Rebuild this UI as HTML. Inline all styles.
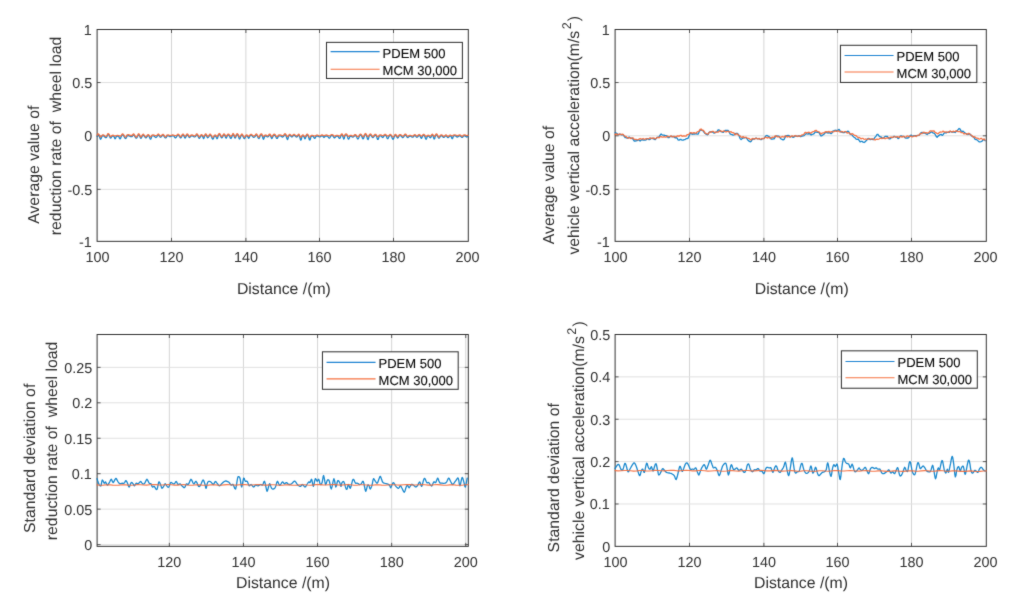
<!DOCTYPE html>
<html lang="en"><head><meta charset="utf-8"><title>PDEM vs MCM comparison</title>
<style>
html,body{margin:0;padding:0;background:#fff;}
body{width:1012px;height:601px;overflow:hidden;}
svg{display:block;font-family:'Liberation Sans', Arial, sans-serif;fill:#303030;text-rendering:geometricPrecision;}
</style></head><body>
<svg width="1012" height="601" viewBox="0 0 1012 601">
<defs><filter id="soft" x="0" y="0" width="100%" height="100%" filterUnits="userSpaceOnUse" color-interpolation-filters="sRGB"><feConvolveMatrix order="3" kernelMatrix="0.02 0.07 0.02 0.07 0.64 0.07 0.02 0.07 0.02" edgeMode="duplicate" preserveAlpha="true"/></filter></defs>
<g filter="url(#soft)">
<rect width="1012" height="601" fill="#ffffff"/>
<line x1="171.50" y1="29.50" x2="171.50" y2="241.35" stroke="#d5d5d5" stroke-width="1"/>
<line x1="245.90" y1="29.50" x2="245.90" y2="241.35" stroke="#d5d5d5" stroke-width="1"/>
<line x1="319.50" y1="29.50" x2="319.50" y2="241.35" stroke="#d5d5d5" stroke-width="1"/>
<line x1="393.50" y1="29.50" x2="393.50" y2="241.35" stroke="#d5d5d5" stroke-width="1"/>
<line x1="97.10" y1="189.35" x2="468.30" y2="189.35" stroke="#e0e0e0" stroke-width="1"/>
<line x1="97.10" y1="135.80" x2="468.30" y2="135.80" stroke="#e0e0e0" stroke-width="1"/>
<line x1="97.10" y1="82.55" x2="468.30" y2="82.55" stroke="#e0e0e0" stroke-width="1"/>
<line x1="171.50" y1="241.35" x2="171.50" y2="237.85" stroke="#4a4a4a" stroke-width="0.9"/>
<line x1="171.50" y1="29.50" x2="171.50" y2="33.00" stroke="#4a4a4a" stroke-width="0.9"/>
<line x1="245.90" y1="241.35" x2="245.90" y2="237.85" stroke="#4a4a4a" stroke-width="0.9"/>
<line x1="245.90" y1="29.50" x2="245.90" y2="33.00" stroke="#4a4a4a" stroke-width="0.9"/>
<line x1="319.50" y1="241.35" x2="319.50" y2="237.85" stroke="#4a4a4a" stroke-width="0.9"/>
<line x1="319.50" y1="29.50" x2="319.50" y2="33.00" stroke="#4a4a4a" stroke-width="0.9"/>
<line x1="393.50" y1="241.35" x2="393.50" y2="237.85" stroke="#4a4a4a" stroke-width="0.9"/>
<line x1="393.50" y1="29.50" x2="393.50" y2="33.00" stroke="#4a4a4a" stroke-width="0.9"/>
<line x1="97.10" y1="189.35" x2="100.60" y2="189.35" stroke="#4a4a4a" stroke-width="0.9"/>
<line x1="468.30" y1="189.35" x2="464.80" y2="189.35" stroke="#4a4a4a" stroke-width="0.9"/>
<line x1="97.10" y1="135.80" x2="100.60" y2="135.80" stroke="#4a4a4a" stroke-width="0.9"/>
<line x1="468.30" y1="135.80" x2="464.80" y2="135.80" stroke="#4a4a4a" stroke-width="0.9"/>
<line x1="97.10" y1="82.55" x2="100.60" y2="82.55" stroke="#4a4a4a" stroke-width="0.9"/>
<line x1="468.30" y1="82.55" x2="464.80" y2="82.55" stroke="#4a4a4a" stroke-width="0.9"/>
<rect x="97.10" y="29.50" width="371.20" height="211.85" fill="none" stroke="#323232" stroke-width="1.0"/>
<polyline points="97.1,136.3 97.6,135.2 98.1,134.7 98.7,134.9 99.2,135.7 99.7,137.3 100.2,138.9 100.7,139.2 101.3,138.2 101.8,136.5 102.3,136.0 102.8,135.7 103.4,135.7 103.9,136.0 104.4,136.5 105.0,137.2 105.5,137.7 106.1,137.7 106.6,137.2 107.1,136.1 107.6,135.0 108.2,134.5 108.7,134.7 109.2,135.5 109.7,136.8 110.3,137.9 110.8,138.1 111.3,137.4 111.8,136.5 112.4,136.2 112.9,136.1 113.5,136.2 114.0,136.5 114.6,138.1 115.1,138.8 115.7,138.1 116.2,136.6 116.8,136.4 117.3,136.2 117.8,136.2 118.3,136.4 118.8,136.6 119.3,137.9 119.8,138.8 120.3,138.8 120.8,137.9 121.3,136.4 121.8,135.5 122.3,134.9 122.8,134.8 123.3,135.2 123.8,135.9 124.3,137.0 124.9,138.0 125.4,138.5 125.9,138.3 126.4,137.5 126.9,136.0 127.4,135.8 127.9,135.6 128.5,135.6 129.0,135.8 129.5,136.0 130.1,136.4 130.6,136.6 131.1,136.6 131.6,136.4 132.2,136.5 132.7,135.5 133.3,134.9 133.8,134.9 134.3,135.5 134.9,136.5 135.4,137.5 136.0,138.2 136.5,138.2 137.0,137.5 137.6,136.3 138.1,135.2 138.7,134.7 139.2,135.2 139.8,136.3 140.4,137.8 140.9,138.4 141.5,137.8 142.0,136.4 142.6,135.6 143.1,135.1 143.7,135.3 144.2,136.0 144.8,136.9 145.4,137.7 145.9,137.9 146.5,137.4 147.0,136.6 147.5,135.9 148.1,135.5 148.6,135.6 149.1,136.2 149.6,137.5 150.1,138.8 150.7,139.1 151.2,138.2 151.7,136.2 152.2,136.0 152.7,135.8 153.2,135.8 153.7,135.9 154.2,136.1 154.7,136.6 155.3,137.2 155.8,137.5 156.3,137.4 156.8,136.9 157.3,136.0 157.8,135.3 158.4,134.9 158.9,135.3 159.4,136.0 160.0,137.0 160.5,137.3 161.0,137.0 161.6,136.5 162.1,135.7 162.6,135.3 163.1,135.3 163.7,135.7 164.2,136.5 164.7,137.4 165.2,137.9 165.7,137.9 166.3,137.4 166.8,136.1 167.3,135.9 167.8,135.7 168.3,135.8 168.8,136.0 169.3,136.3 169.8,136.6 170.3,136.7 170.8,136.5 171.3,136.2 171.9,136.0 172.4,135.8 173.0,135.8 173.5,136.0 174.1,136.2 174.6,137.3 175.2,137.9 175.7,137.9 176.3,137.3 176.8,136.3 177.3,135.6 177.8,135.1 178.3,135.1 178.9,135.6 179.4,136.3 179.9,137.2 180.4,137.8 180.9,137.8 181.4,137.2 181.9,136.1 182.4,135.3 183.0,135.0 183.5,135.3 184.0,136.1 184.6,137.5 185.1,138.1 185.6,137.5 186.2,136.1 186.7,135.2 187.3,134.8 187.8,135.2 188.4,136.1 188.9,137.1 189.5,137.6 190.1,137.1 190.6,136.3 191.1,136.0 191.6,135.9 192.2,135.9 192.7,136.0 193.2,136.3 193.7,136.6 194.2,136.8 194.7,136.8 195.2,136.6 195.7,136.3 196.2,135.2 196.8,134.7 197.3,134.9 197.8,135.7 198.4,137.0 198.9,138.1 199.4,138.3 199.9,137.6 200.5,136.4 201.0,135.8 201.5,135.6 202.0,135.8 202.6,136.4 203.1,137.9 203.6,138.6 204.1,137.9 204.7,136.0 205.2,135.1 205.7,134.7 206.2,135.1 206.7,136.0 207.2,137.3 207.7,137.8 208.3,137.3 208.8,136.6 209.3,135.7 209.8,135.1 210.4,135.1 210.9,135.7 211.5,136.6 212.0,138.1 212.5,139.0 213.1,139.0 213.6,138.1 214.1,136.6 214.7,136.0 215.3,135.8 215.8,136.3 216.4,137.6 217.0,138.7 217.5,138.3 218.1,136.0 218.6,135.0 219.2,134.4 219.7,134.6 220.3,135.5 220.8,136.6 221.4,137.6 221.9,137.8 222.5,137.2 223.0,136.0 223.5,135.1 224.0,134.7 224.6,135.1 225.1,136.0 225.6,137.6 226.1,138.2 226.6,137.6 227.1,136.0 227.7,135.3 228.2,135.0 228.8,135.1 229.3,135.7 229.9,136.9 230.4,138.2 231.0,138.5 231.5,137.7 232.1,136.0 232.6,134.9 233.1,134.4 233.6,134.9 234.1,136.0 234.6,137.5 235.1,138.1 235.6,137.5 236.1,136.1 236.6,135.0 237.1,134.5 237.6,134.7 238.2,135.5 238.7,137.1 239.2,138.7 239.7,139.0 240.2,138.0 240.7,136.5 241.2,135.5 241.8,134.9 242.3,135.1 242.8,136.0 243.4,137.2 243.9,138.3 244.5,138.6 245.0,137.9 245.6,136.5 246.1,136.0 246.6,135.7 247.1,136.0 247.7,136.5 248.2,137.7 248.7,138.2 249.2,137.7 249.8,136.1 250.3,135.6 250.8,135.3 251.4,135.3 251.9,135.6 252.4,136.1 253.0,136.9 253.5,137.3 254.0,137.3 254.5,136.9 255.1,136.4 255.6,135.4 256.2,134.8 256.7,135.0 257.3,135.9 257.8,137.1 258.4,138.2 258.9,138.5 259.5,137.8 260.0,136.0 260.5,135.2 261.0,134.8 261.6,134.9 262.1,135.6 262.6,137.1 263.1,138.8 263.6,139.2 264.1,138.1 264.6,136.3 265.2,136.0 265.7,135.9 266.3,136.1 266.9,136.6 267.4,136.9 268.0,136.8 268.6,136.3 269.1,135.3 269.7,135.0 270.2,135.3 270.7,136.3 271.3,137.8 271.8,138.5 272.4,137.8 272.9,136.3 273.5,135.5 274.0,135.1 274.5,135.1 275.1,135.5 275.6,136.3 276.2,137.6 276.7,138.4 277.3,138.4 277.8,137.6 278.3,136.1 278.9,135.9 279.4,135.8 280.0,135.8 280.5,135.9 281.1,136.1 281.6,136.7 282.2,137.0 282.7,137.0 283.3,136.7 283.8,136.0 284.4,135.0 284.9,134.5 285.4,134.7 286.0,135.5 286.5,137.2 287.1,139.1 287.6,139.5 288.1,138.3 288.7,136.0 289.2,135.5 289.7,135.2 290.3,135.5 290.8,136.0 291.3,136.7 291.9,137.0 292.4,136.7 292.9,136.0 293.5,135.5 294.0,135.2 294.5,135.3 295.0,135.8 295.5,136.4 296.0,136.9 296.5,137.0 297.0,136.7 297.5,136.6 298.1,135.5 298.6,135.0 299.2,135.5 299.7,136.6 300.3,139.1 300.8,140.1 301.4,139.1 301.9,136.6 302.4,136.0 302.9,135.8 303.4,136.0 303.9,136.6 304.5,138.1 305.0,138.8 305.5,138.1 306.0,136.6 306.5,135.6 307.0,135.0 307.5,135.0 308.0,135.6 308.5,136.6 309.0,138.6 309.5,139.9 310.0,139.9 310.5,138.6 311.0,136.5 311.5,136.3 312.1,136.2 312.6,136.2 313.2,136.4 313.7,137.2 314.3,138.1 314.8,138.3 315.4,137.7 315.9,136.4 316.4,136.1 316.9,136.0 317.4,136.0 317.9,136.1 318.4,136.4 318.9,136.7 319.5,136.9 320.0,136.9 320.5,136.7 321.0,136.2 321.5,135.9 322.0,135.8 322.5,135.9 323.0,136.2 323.5,137.1 324.0,137.5 324.5,137.1 325.0,136.3 325.5,136.1 326.0,136.0 326.5,135.9 327.0,136.0 327.6,136.2 328.1,136.8 328.6,137.7 329.1,138.1 329.6,138.0 330.1,137.3 330.6,136.2 331.1,135.7 331.6,135.5 332.2,135.5 332.7,135.7 333.2,136.2 333.7,137.2 334.2,137.8 334.7,137.8 335.3,137.2 335.8,136.6 336.3,136.3 336.8,136.2 337.3,136.2 337.8,136.3 338.3,136.6 338.8,137.6 339.3,138.3 339.8,138.3 340.3,137.6 340.8,136.0 341.4,135.0 342.0,134.7 342.5,135.4 343.1,137.4 343.7,139.1 344.2,138.5 344.8,136.0 345.3,135.2 345.8,134.8 346.3,134.8 346.8,135.2 347.3,136.0 347.8,137.9 348.3,139.1 348.8,139.1 349.3,137.9 349.8,136.6 350.3,136.3 350.8,136.2 351.3,136.3 351.8,136.6 352.3,137.0 352.8,137.2 353.3,137.0 353.8,136.6 354.4,135.9 354.9,135.5 355.4,135.5 356.0,135.9 356.5,136.6 357.1,138.0 357.6,138.9 358.1,138.9 358.7,138.0 359.2,136.3 359.7,135.5 360.2,135.0 360.8,135.0 361.3,135.5 361.8,136.3 362.3,137.9 362.8,138.8 363.3,138.8 363.8,137.9 364.3,136.0 364.8,135.0 365.4,134.4 365.9,134.6 366.4,135.5 367.0,137.2 367.5,139.0 368.1,139.5 368.6,138.3 369.1,136.1 369.7,135.3 370.2,134.9 370.8,135.0 371.3,135.7 371.9,136.7 372.4,137.4 373.0,137.6 373.5,137.1 374.0,136.4 374.6,135.6 375.1,135.2 375.6,135.2 376.1,135.6 376.6,136.4 377.1,138.3 377.6,139.4 378.1,139.4 378.6,138.3 379.1,136.2 379.7,135.9 380.2,135.8 380.7,135.8 381.2,136.0 381.8,136.6 382.3,137.3 382.8,137.5 383.3,137.0 383.9,136.1 384.4,135.6 384.9,135.3 385.4,135.3 385.9,135.6 386.4,136.1 386.9,137.7 387.4,138.7 387.9,138.7 388.4,137.7 388.9,136.5 389.5,135.8 390.0,135.3 390.5,135.3 391.1,135.8 391.6,136.5 392.2,138.1 392.7,139.1 393.3,139.1 393.8,138.1 394.4,136.4 394.9,135.6 395.5,135.3 396.0,135.6 396.6,136.4 397.1,137.5 397.7,138.0 398.3,137.5 398.8,136.2 399.3,135.8 399.9,135.5 400.4,135.5 400.9,135.8 401.4,136.2 402.0,137.0 402.5,137.5 403.0,137.5 403.6,137.0 404.1,136.1 404.6,135.4 405.2,135.0 405.7,135.1 406.3,135.7 406.8,136.6 407.3,137.5 407.9,137.7 408.4,137.1 409.0,136.6 409.5,136.3 410.0,136.2 410.5,136.2 411.1,136.4 411.6,136.8 412.1,137.1 412.7,137.2 413.2,137.0 413.7,136.3 414.3,135.7 414.8,135.5 415.4,135.7 415.9,136.3 416.4,137.0 417.0,137.3 417.5,137.0 418.1,136.2 418.6,135.7 419.2,135.4 419.7,135.7 420.3,136.2 420.8,137.8 421.4,138.4 421.9,137.8 422.5,136.3 423.0,135.6 423.5,135.2 424.0,135.3 424.6,135.9 425.1,137.3 425.6,138.9 426.2,139.2 426.7,138.2 427.2,136.5 427.7,136.2 428.2,136.1 428.7,136.2 429.2,136.5 429.8,137.4 430.3,137.8 430.8,137.4 431.3,136.2 431.8,135.4 432.4,135.1 433.0,135.7 433.5,137.5 434.1,139.1 434.7,138.6 435.2,136.4 435.7,135.4 436.2,134.9 436.7,134.9 437.2,135.4 437.7,136.4 438.2,137.4 438.7,138.1 439.2,138.1 439.7,137.4 440.2,136.5 440.7,135.9 441.3,135.7 441.8,135.8 442.3,136.2 442.8,136.8 443.3,137.3 443.8,137.4 444.3,137.1 444.8,136.6 445.4,136.0 445.9,135.8 446.5,136.0 447.0,136.6 447.5,137.3 448.1,137.6 448.6,137.3 449.2,136.4 449.7,136.1 450.2,136.0 450.7,136.1 451.2,136.4 451.7,138.0 452.2,138.7 452.8,138.0 453.3,136.1 453.8,135.9 454.3,135.7 454.9,135.7 455.4,135.9 455.9,136.1 456.4,136.6 457.0,137.0 457.5,137.0 458.0,136.6 458.5,136.5 459.1,135.9 459.6,135.7 460.1,135.8 460.6,136.2 461.2,136.8 461.7,137.3 462.2,137.4 462.7,137.1 463.3,136.1 463.8,135.9 464.3,135.7 464.9,135.8 465.4,136.0 465.9,136.4 466.5,136.9 467.0,137.0 467.5,136.7 468.1,136.3" fill="none" stroke="#087fca" stroke-width="1.3" stroke-opacity="0.92" stroke-linejoin="round" stroke-linecap="round"/>
<polyline points="97.1,135.4 97.6,134.3 98.1,133.8 98.7,134.0 99.2,134.8 99.7,135.9 100.2,136.8 100.7,136.9 101.3,136.4 101.8,135.6 102.3,135.1 102.8,134.8 103.4,134.8 103.9,135.1 104.4,135.6 105.0,136.1 105.5,136.3 106.1,136.3 106.6,136.1 107.1,135.2 107.6,134.1 108.2,133.6 108.7,133.8 109.2,134.6 109.7,135.7 110.3,136.5 110.8,136.7 111.3,136.2 111.8,135.6 112.4,135.3 112.9,135.2 113.5,135.3 114.0,135.6 114.6,135.9 115.1,136.0 115.7,135.9 116.2,135.7 116.8,135.5 117.3,135.3 117.8,135.3 118.3,135.5 118.8,135.7 119.3,135.9 119.8,136.1 120.3,136.1 120.8,135.9 121.3,135.5 121.8,134.6 122.3,134.0 122.8,133.9 123.3,134.3 123.8,135.0 124.3,135.9 124.9,136.7 125.4,137.1 125.9,136.9 126.4,136.3 126.9,135.1 127.4,134.9 127.9,134.7 128.5,134.7 129.0,134.9 129.5,135.1 130.1,135.4 130.6,135.5 131.1,135.5 131.6,135.4 132.2,135.6 132.7,134.6 133.3,134.0 133.8,134.0 134.3,134.6 134.9,135.6 135.4,136.5 136.0,137.1 136.5,137.1 137.0,136.5 137.6,135.4 138.1,134.3 138.7,133.8 139.2,134.3 139.8,135.4 140.4,136.5 140.9,137.0 141.5,136.5 142.0,135.5 142.6,134.7 143.1,134.2 143.7,134.4 144.2,135.1 144.8,135.9 145.4,136.6 145.9,136.8 146.5,136.3 147.0,135.7 147.5,135.0 148.1,134.6 148.6,134.7 149.1,135.3 149.6,136.1 150.1,136.7 150.7,136.8 151.2,136.4 151.7,135.3 152.2,135.1 152.7,134.9 153.2,134.9 153.7,135.0 154.2,135.2 154.7,135.4 155.3,135.6 155.8,135.7 156.3,135.7 156.8,135.5 157.3,135.1 157.8,134.4 158.4,134.0 158.9,134.4 159.4,135.1 160.0,135.9 160.5,136.2 161.0,135.9 161.6,135.6 162.1,134.8 162.6,134.4 163.1,134.4 163.7,134.8 164.2,135.6 164.7,136.4 165.2,136.8 165.7,136.8 166.3,136.4 166.8,135.2 167.3,135.0 167.8,134.8 168.3,134.9 168.8,135.1 169.3,135.4 169.8,135.6 170.3,135.6 170.8,135.5 171.3,135.3 171.9,135.1 172.4,134.9 173.0,134.9 173.5,135.1 174.1,135.3 174.6,135.6 175.2,135.7 175.7,135.7 176.3,135.6 176.8,135.4 177.3,134.7 177.8,134.2 178.3,134.2 178.9,134.7 179.4,135.4 179.9,136.2 180.4,136.7 180.9,136.7 181.4,136.2 181.9,135.2 182.4,134.4 183.0,134.1 183.5,134.4 184.0,135.2 184.6,135.9 185.1,136.3 185.6,135.9 186.2,135.2 186.7,134.3 187.3,133.9 187.8,134.3 188.4,135.2 188.9,136.1 189.5,136.5 190.1,136.1 190.6,135.4 191.1,135.1 191.6,135.0 192.2,135.0 192.7,135.1 193.2,135.4 193.7,135.6 194.2,135.8 194.7,135.8 195.2,135.6 195.7,135.4 196.2,134.3 196.8,133.8 197.3,134.0 197.8,134.8 198.4,135.9 198.9,136.8 199.4,136.9 199.9,136.4 200.5,135.5 201.0,134.9 201.5,134.7 202.0,134.9 202.6,135.5 203.1,136.1 203.6,136.3 204.1,136.1 204.7,135.1 205.2,134.2 205.7,133.8 206.2,134.2 206.7,135.1 207.2,136.0 207.7,136.4 208.3,136.0 208.8,135.7 209.3,134.8 209.8,134.2 210.4,134.2 210.9,134.8 211.5,135.7 212.0,136.6 212.5,137.2 213.1,137.2 213.6,136.6 214.1,135.7 214.7,135.1 215.3,134.9 215.8,135.4 216.4,136.0 217.0,136.5 217.5,136.3 218.1,135.1 218.6,134.1 219.2,133.5 219.7,133.7 220.3,134.6 220.8,135.7 221.4,136.5 221.9,136.7 222.5,136.2 223.0,135.1 223.5,134.2 224.0,133.8 224.6,134.2 225.1,135.1 225.6,136.0 226.1,136.4 226.6,136.0 227.1,135.1 227.7,134.4 228.2,134.1 228.8,134.2 229.3,134.8 229.9,135.5 230.4,136.1 231.0,136.2 231.5,135.9 232.1,135.1 232.6,134.0 233.1,133.5 233.6,134.0 234.1,135.1 234.6,136.2 235.1,136.7 235.6,136.2 236.1,135.2 236.6,134.1 237.1,133.6 237.6,133.8 238.2,134.6 238.7,135.7 239.2,136.6 239.7,136.8 240.2,136.2 240.7,135.6 241.2,134.6 241.8,134.0 242.3,134.2 242.8,135.1 243.4,136.2 243.9,137.0 244.5,137.2 245.0,136.6 245.6,135.6 246.1,135.1 246.6,134.8 247.1,135.1 247.7,135.6 248.2,136.2 248.7,136.4 249.2,136.2 249.8,135.2 250.3,134.7 250.8,134.4 251.4,134.4 251.9,134.7 252.4,135.2 253.0,135.7 253.5,136.0 254.0,136.0 254.5,135.7 255.1,135.5 255.6,134.5 256.2,133.9 256.7,134.1 257.3,135.0 257.8,136.1 258.4,136.9 258.9,137.1 259.5,136.5 260.0,135.1 260.5,134.3 261.0,133.9 261.6,134.0 262.1,134.7 262.6,135.6 263.1,136.3 263.6,136.4 264.1,136.0 264.6,135.4 265.2,135.1 265.7,135.0 266.3,135.2 266.9,135.6 267.4,135.8 268.0,135.7 268.6,135.4 269.1,134.4 269.7,134.1 270.2,134.4 270.7,135.4 271.3,136.3 271.8,136.7 272.4,136.3 272.9,135.4 273.5,134.6 274.0,134.2 274.5,134.2 275.1,134.6 275.6,135.4 276.2,136.2 276.7,136.6 277.3,136.6 277.8,136.2 278.3,135.2 278.9,135.0 279.4,134.9 280.0,134.9 280.5,135.0 281.1,135.2 281.6,135.5 282.2,135.6 282.7,135.6 283.3,135.5 283.8,135.1 284.4,134.1 284.9,133.6 285.4,133.8 286.0,134.6 286.5,135.7 287.1,136.5 287.6,136.7 288.1,136.2 288.7,135.1 289.2,134.6 289.7,134.3 290.3,134.6 290.8,135.1 291.3,135.7 291.9,135.9 292.4,135.7 292.9,135.1 293.5,134.6 294.0,134.3 294.5,134.4 295.0,134.9 295.5,135.4 296.0,135.8 296.5,135.9 297.0,135.6 297.5,135.7 298.1,134.6 298.6,134.1 299.2,134.6 299.7,135.7 300.3,136.8 300.8,137.3 301.4,136.8 301.9,135.7 302.4,135.1 302.9,134.9 303.4,135.1 303.9,135.7 304.5,136.3 305.0,136.5 305.5,136.3 306.0,135.7 306.5,134.7 307.0,134.1 307.5,134.1 308.0,134.7 308.5,135.7 309.0,136.6 309.5,137.2 310.0,137.2 310.5,136.6 311.0,135.6 311.5,135.4 312.1,135.3 312.6,135.3 313.2,135.5 313.7,135.8 314.3,136.0 314.8,136.0 315.4,135.9 315.9,135.5 316.4,135.2 316.9,135.1 317.4,135.1 317.9,135.2 318.4,135.5 318.9,135.7 319.5,135.8 320.0,135.8 320.5,135.7 321.0,135.3 321.5,135.0 322.0,134.9 322.5,135.0 323.0,135.3 323.5,135.6 324.0,135.7 324.5,135.6 325.0,135.4 325.5,135.2 326.0,135.1 326.5,135.0 327.0,135.1 327.6,135.3 328.1,135.5 328.6,135.7 329.1,135.8 329.6,135.8 330.1,135.6 330.6,135.3 331.1,134.8 331.6,134.6 332.2,134.6 332.7,134.8 333.2,135.3 333.7,135.8 334.2,136.1 334.7,136.1 335.3,135.8 335.8,135.7 336.3,135.4 336.8,135.3 337.3,135.3 337.8,135.4 338.3,135.7 338.8,135.9 339.3,136.0 339.8,136.0 340.3,135.9 340.8,135.1 341.4,134.1 342.0,133.8 342.5,134.5 343.1,135.7 343.7,136.4 344.2,136.1 344.8,135.1 345.3,134.3 345.8,133.9 346.3,133.9 346.8,134.3 347.3,135.1 347.8,135.9 348.3,136.3 348.8,136.3 349.3,135.9 349.8,135.7 350.3,135.4 350.8,135.3 351.3,135.4 351.8,135.7 352.3,136.0 352.8,136.1 353.3,136.0 353.8,135.7 354.4,135.0 354.9,134.6 355.4,134.6 356.0,135.0 356.5,135.7 357.1,136.3 357.6,136.7 358.1,136.7 358.7,136.3 359.2,135.4 359.7,134.6 360.2,134.1 360.8,134.1 361.3,134.6 361.8,135.4 362.3,136.1 362.8,136.6 363.3,136.6 363.8,136.1 364.3,135.1 364.8,134.1 365.4,133.5 365.9,133.7 366.4,134.6 367.0,135.7 367.5,136.5 368.1,136.7 368.6,136.1 369.1,135.2 369.7,134.4 370.2,134.0 370.8,134.1 371.3,134.8 371.9,135.7 372.4,136.4 373.0,136.5 373.5,136.1 374.0,135.5 374.6,134.7 375.1,134.3 375.6,134.3 376.1,134.7 376.6,135.5 377.1,136.3 377.6,136.7 378.1,136.7 378.6,136.3 379.1,135.3 379.7,135.0 380.2,134.9 380.7,134.9 381.2,135.1 381.8,135.4 382.3,135.6 382.8,135.7 383.3,135.5 383.9,135.2 384.4,134.7 384.9,134.4 385.4,134.4 385.9,134.7 386.4,135.2 386.9,135.7 387.4,136.0 387.9,136.0 388.4,135.7 388.9,135.6 389.5,134.9 390.0,134.4 390.5,134.4 391.1,134.9 391.6,135.6 392.2,136.4 392.7,136.9 393.3,136.9 393.8,136.4 394.4,135.5 394.9,134.7 395.5,134.4 396.0,134.7 396.6,135.5 397.1,136.3 397.7,136.6 398.3,136.3 398.8,135.3 399.3,134.9 399.9,134.6 400.4,134.6 400.9,134.9 401.4,135.3 402.0,135.8 402.5,136.1 403.0,136.1 403.6,135.8 404.1,135.2 404.6,134.5 405.2,134.1 405.7,134.2 406.3,134.8 406.8,135.6 407.3,136.1 407.9,136.3 408.4,135.9 409.0,135.7 409.5,135.4 410.0,135.3 410.5,135.3 411.1,135.5 411.6,135.8 412.1,136.0 412.7,136.1 413.2,135.9 413.7,135.4 414.3,134.8 414.8,134.6 415.4,134.8 415.9,135.4 416.4,135.9 417.0,136.2 417.5,135.9 418.1,135.3 418.6,134.8 419.2,134.5 419.7,134.8 420.3,135.3 420.8,135.9 421.4,136.1 421.9,135.9 422.5,135.4 423.0,134.7 423.5,134.3 424.0,134.4 424.6,135.0 425.1,135.7 425.6,136.3 426.2,136.5 426.7,136.1 427.2,135.6 427.7,135.3 428.2,135.2 428.7,135.3 429.2,135.6 429.8,135.9 430.3,136.0 430.8,135.9 431.3,135.3 431.8,134.5 432.4,134.2 433.0,134.8 433.5,135.8 434.1,136.4 434.7,136.2 435.2,135.5 435.7,134.5 436.2,134.0 436.7,134.0 437.2,134.5 437.7,135.5 438.2,136.4 438.7,137.0 439.2,137.0 439.7,136.4 440.2,135.6 440.7,135.0 441.3,134.8 441.8,134.9 442.3,135.3 442.8,135.8 443.3,136.3 443.8,136.3 444.3,136.1 444.8,135.7 445.4,135.1 445.9,134.9 446.5,135.1 447.0,135.7 447.5,136.3 448.1,136.5 448.6,136.3 449.2,135.5 449.7,135.2 450.2,135.1 450.7,135.2 451.2,135.5 451.7,135.8 452.2,135.9 452.8,135.8 453.3,135.2 453.8,135.0 454.3,134.8 454.9,134.8 455.4,135.0 455.9,135.2 456.4,135.5 457.0,135.6 457.5,135.6 458.0,135.5 458.5,135.6 459.1,135.0 459.6,134.8 460.1,134.9 460.6,135.3 461.2,135.8 461.7,136.2 462.2,136.3 462.7,136.1 463.3,135.2 463.8,135.0 464.3,134.8 464.9,134.9 465.4,135.1 465.9,135.4 466.5,135.6 467.0,135.6 467.5,135.5 468.1,135.4" fill="none" stroke="#f66a38" stroke-width="1.3" stroke-opacity="0.92" stroke-linejoin="round" stroke-linecap="round"/>
<text x="97.50" y="262.00" font-size="14.4" text-anchor="middle">100</text>
<text x="171.50" y="262.00" font-size="14.4" text-anchor="middle">120</text>
<text x="245.90" y="262.00" font-size="14.4" text-anchor="middle">140</text>
<text x="319.50" y="262.00" font-size="14.4" text-anchor="middle">160</text>
<text x="393.50" y="262.00" font-size="14.4" text-anchor="middle">180</text>
<text x="467.50" y="262.00" font-size="14.4" text-anchor="middle">200</text>
<text x="91.80" y="246.85" font-size="14.4" text-anchor="end">-1</text>
<text x="92.20" y="194.85" font-size="14.4" text-anchor="end">-0.5</text>
<text x="92.20" y="141.30" font-size="14.4" text-anchor="end">0</text>
<text x="92.20" y="88.05" font-size="14.4" text-anchor="end">0.5</text>
<text x="91.80" y="35.00" font-size="14.4" text-anchor="end">1</text>
<rect x="326.50" y="42.37" width="135.90" height="36.10" fill="#fff" stroke="#363636" stroke-width="1.05"/>
<line x1="330.60" y1="51.65" x2="379.60" y2="51.65" stroke="#1f84d2" stroke-width="1.1"/>
<line x1="330.60" y1="69.30" x2="379.60" y2="69.30" stroke="#f6703f" stroke-width="1.1"/>
<text x="382.60" y="57.80" font-size="13.0" fill="#0c0c0c" stroke="#0c0c0c" stroke-width="0.12">PDEM 500</text>
<text x="382.60" y="75.10" font-size="13.0" fill="#0c0c0c" stroke="#0c0c0c" stroke-width="0.12">MCM 30,000</text>
<text x="283.90" y="294.00" font-size="15.8" text-anchor="middle">Distance /(m)</text>
<text transform="translate(39.00,223.80) rotate(-90)" font-size="15.8" xml:space="preserve">Average value of</text>
<text transform="translate(60.80,235.20) rotate(-90)" font-size="15.8" xml:space="preserve">reduction rate of  wheel load</text>
<line x1="689.50" y1="29.50" x2="689.50" y2="241.35" stroke="#d5d5d5" stroke-width="1"/>
<line x1="763.90" y1="29.50" x2="763.90" y2="241.35" stroke="#d5d5d5" stroke-width="1"/>
<line x1="837.50" y1="29.50" x2="837.50" y2="241.35" stroke="#d5d5d5" stroke-width="1"/>
<line x1="911.50" y1="29.50" x2="911.50" y2="241.35" stroke="#d5d5d5" stroke-width="1"/>
<line x1="615.10" y1="189.35" x2="986.30" y2="189.35" stroke="#e0e0e0" stroke-width="1"/>
<line x1="615.10" y1="135.80" x2="986.30" y2="135.80" stroke="#e0e0e0" stroke-width="1"/>
<line x1="615.10" y1="82.55" x2="986.30" y2="82.55" stroke="#e0e0e0" stroke-width="1"/>
<line x1="689.50" y1="241.35" x2="689.50" y2="237.85" stroke="#4a4a4a" stroke-width="0.9"/>
<line x1="689.50" y1="29.50" x2="689.50" y2="33.00" stroke="#4a4a4a" stroke-width="0.9"/>
<line x1="763.90" y1="241.35" x2="763.90" y2="237.85" stroke="#4a4a4a" stroke-width="0.9"/>
<line x1="763.90" y1="29.50" x2="763.90" y2="33.00" stroke="#4a4a4a" stroke-width="0.9"/>
<line x1="837.50" y1="241.35" x2="837.50" y2="237.85" stroke="#4a4a4a" stroke-width="0.9"/>
<line x1="837.50" y1="29.50" x2="837.50" y2="33.00" stroke="#4a4a4a" stroke-width="0.9"/>
<line x1="911.50" y1="241.35" x2="911.50" y2="237.85" stroke="#4a4a4a" stroke-width="0.9"/>
<line x1="911.50" y1="29.50" x2="911.50" y2="33.00" stroke="#4a4a4a" stroke-width="0.9"/>
<line x1="615.10" y1="189.35" x2="618.60" y2="189.35" stroke="#4a4a4a" stroke-width="0.9"/>
<line x1="986.30" y1="189.35" x2="982.80" y2="189.35" stroke="#4a4a4a" stroke-width="0.9"/>
<line x1="615.10" y1="135.80" x2="618.60" y2="135.80" stroke="#4a4a4a" stroke-width="0.9"/>
<line x1="986.30" y1="135.80" x2="982.80" y2="135.80" stroke="#4a4a4a" stroke-width="0.9"/>
<line x1="615.10" y1="82.55" x2="618.60" y2="82.55" stroke="#4a4a4a" stroke-width="0.9"/>
<line x1="986.30" y1="82.55" x2="982.80" y2="82.55" stroke="#4a4a4a" stroke-width="0.9"/>
<rect x="615.10" y="29.50" width="371.20" height="211.85" fill="none" stroke="#323232" stroke-width="1.0"/>
<polyline points="615.1,132.7 616.1,133.2 617.1,133.7 618.1,134.5 619.1,134.8 620.1,134.1 621.1,134.8 622.1,134.9 623.1,134.7 624.1,136.2 625.1,137.5 626.1,137.7 627.1,138.1 628.1,138.0 629.1,137.0 630.1,137.8 631.1,138.4 632.1,138.2 633.1,139.4 634.1,141.0 635.1,141.0 636.1,140.9 637.1,140.7 638.1,140.0 639.1,140.1 640.1,141.1 641.1,140.1 642.1,139.5 643.1,140.1 644.1,139.9 645.1,140.1 646.1,139.8 647.1,138.6 648.1,138.8 649.1,139.7 650.1,139.3 651.1,138.3 652.1,138.4 653.1,138.7 654.1,139.2 655.1,139.7 656.1,138.6 657.1,137.4 658.1,137.2 659.1,136.8 660.1,135.2 661.1,134.0 662.1,134.8 663.1,135.1 664.1,135.1 665.1,135.6 666.1,135.7 667.1,136.1 668.1,137.6 669.1,137.6 670.1,136.5 671.1,136.5 672.1,136.6 673.1,136.4 674.1,136.9 675.1,137.8 676.1,137.7 677.1,138.2 678.1,139.8 679.1,140.2 680.1,139.3 681.1,139.5 682.1,140.2 683.1,140.2 684.1,139.6 685.1,139.5 686.1,138.7 687.1,138.7 688.1,138.2 689.1,136.0 690.1,133.5 691.1,133.5 692.1,134.3 693.1,133.9 694.1,134.0 695.1,134.0 696.1,133.6 697.1,134.1 698.1,134.2 699.1,131.9 700.1,130.1 701.1,130.2 702.1,130.3 703.1,130.9 704.1,132.4 705.1,133.5 706.1,134.1 707.1,134.8 708.1,134.4 709.1,132.3 710.1,131.9 711.1,131.9 712.1,131.7 713.1,132.5 714.1,133.1 715.1,132.6 716.1,132.0 717.1,131.6 718.1,129.9 719.1,130.0 720.1,130.8 721.1,131.7 722.1,132.0 723.1,132.4 724.1,131.6 725.1,130.5 726.1,130.4 727.1,130.5 728.1,130.5 729.1,131.7 730.1,133.9 731.1,134.3 732.1,134.6 733.1,135.2 734.1,134.9 735.1,133.8 736.1,133.4 737.1,133.3 738.1,134.0 739.1,135.9 740.1,138.6 741.1,139.6 742.1,138.6 743.1,138.0 744.1,137.9 745.1,137.7 746.1,137.7 747.1,138.8 748.1,140.4 749.1,141.1 750.1,141.8 751.1,141.3 752.1,139.6 753.1,138.9 754.1,139.1 755.1,138.6 756.1,138.1 757.1,138.6 758.1,138.9 759.1,138.5 760.1,139.3 761.1,139.7 762.1,138.8 763.1,138.7 764.1,138.3 765.1,136.8 766.1,135.6 767.1,135.5 768.1,136.1 769.1,136.6 770.1,137.7 771.1,139.0 772.1,139.1 773.1,138.9 774.1,138.9 775.1,137.1 776.1,136.0 777.1,136.1 778.1,136.0 779.1,136.4 780.1,137.8 781.1,139.0 782.1,139.4 783.1,139.9 784.1,139.4 785.1,137.3 786.1,135.6 787.1,135.7 788.1,135.5 789.1,135.7 790.1,136.8 791.1,136.6 792.1,136.5 793.1,137.4 794.1,136.9 795.1,136.1 796.1,136.0 797.1,136.5 798.1,136.0 799.1,135.8 800.1,136.5 801.1,136.5 802.1,136.0 803.1,135.8 804.1,135.6 805.1,134.6 806.1,133.6 807.1,133.9 808.1,134.1 809.1,133.4 810.1,134.1 811.1,135.0 812.1,134.4 813.1,134.2 814.1,133.7 815.1,132.2 816.1,132.0 817.1,132.3 818.1,132.4 819.1,132.7 820.1,134.7 821.1,136.0 822.1,135.6 823.1,134.8 824.1,134.1 825.1,132.9 826.1,132.3 827.1,132.7 828.1,133.1 829.1,132.7 830.1,133.1 831.1,133.7 832.1,132.7 833.1,130.9 834.1,130.7 835.1,130.3 836.1,130.2 837.1,130.8 838.1,130.1 839.1,129.4 840.1,131.0 841.1,132.1 842.1,132.0 843.1,132.7 844.1,132.7 845.1,131.9 846.1,131.8 847.1,131.7 848.1,131.2 849.1,132.3 850.1,134.1 851.1,134.6 852.1,135.0 853.1,136.5 854.1,137.3 855.1,137.9 856.1,139.1 857.1,139.3 858.1,139.0 859.1,140.4 860.1,141.8 861.1,141.3 862.1,141.4 863.1,142.1 864.1,142.5 865.1,141.9 866.1,140.8 867.1,139.8 868.1,138.5 869.1,138.7 870.1,139.6 871.1,139.4 872.1,139.2 873.1,139.7 874.1,138.6 875.1,137.1 876.1,136.1 877.1,134.3 878.1,134.5 879.1,136.1 880.1,136.8 881.1,137.0 882.1,138.0 883.1,138.2 884.1,137.4 885.1,136.4 886.1,136.4 887.1,136.3 888.1,137.4 889.1,138.8 890.1,138.8 891.1,137.7 892.1,137.5 893.1,137.2 894.1,136.2 895.1,136.8 896.1,137.2 897.1,137.3 898.1,138.6 899.1,137.9 900.1,136.4 901.1,135.8 902.1,136.3 903.1,136.3 904.1,136.6 905.1,137.8 906.1,138.2 907.1,137.9 908.1,138.0 909.1,137.3 910.1,135.5 911.1,135.1 912.1,136.0 913.1,136.1 914.1,135.6 915.1,135.6 916.1,135.7 917.1,135.6 918.1,135.5 919.1,135.2 920.1,134.1 921.1,132.6 922.1,132.4 923.1,133.0 924.1,133.1 925.1,133.0 926.1,133.9 927.1,134.5 928.1,133.6 929.1,133.4 930.1,132.9 931.1,131.9 932.1,132.2 933.1,133.1 934.1,133.1 935.1,134.3 936.1,136.2 937.1,137.2 938.1,136.1 939.1,135.4 940.1,134.6 941.1,134.3 942.1,135.4 943.1,134.7 944.1,133.1 945.1,132.7 946.1,133.0 947.1,132.3 948.1,132.2 949.1,132.4 950.1,131.5 951.1,131.7 952.1,132.2 953.1,132.0 954.1,132.1 955.1,132.5 956.1,131.5 957.1,130.7 958.1,129.6 959.1,128.5 960.1,129.1 961.1,131.1 962.1,131.3 963.1,131.1 964.1,132.1 965.1,133.1 966.1,133.5 967.1,134.4 968.1,134.5 969.1,133.9 970.1,134.1 971.1,135.4 972.1,136.3 973.1,136.6 974.1,137.7 975.1,139.4 976.1,139.6 977.1,139.9 978.1,140.9 979.1,141.8 980.1,141.8 981.1,141.6 982.1,141.2 983.1,140.0 984.1,139.4 985.1,140.7" fill="none" stroke="#087fca" stroke-width="1.3" stroke-opacity="0.92" stroke-linejoin="round" stroke-linecap="round"/>
<polyline points="615.1,134.7 616.1,133.7 617.1,134.4 618.1,134.7 619.1,133.9 620.1,134.3 621.1,134.7 622.1,134.1 623.1,134.3 624.1,135.7 625.1,136.3 626.1,136.5 627.1,137.6 628.1,138.1 629.1,137.6 630.1,137.9 631.1,138.6 632.1,137.9 633.1,137.9 634.1,139.4 635.1,139.4 636.1,139.3 637.1,139.6 638.1,139.8 639.1,139.1 640.1,138.5 641.1,139.2 642.1,139.0 643.1,138.5 644.1,139.3 645.1,139.2 646.1,138.5 647.1,138.8 648.1,138.9 649.1,138.6 650.1,137.8 651.1,138.4 652.1,138.5 653.1,137.9 654.1,138.1 655.1,139.0 656.1,138.3 657.1,137.4 658.1,137.5 659.1,137.8 660.1,136.7 661.1,136.6 662.1,137.1 663.1,137.2 664.1,136.7 665.1,137.2 666.1,137.2 667.1,136.2 668.1,136.4 669.1,136.9 670.1,136.5 671.1,135.8 672.1,136.8 673.1,136.9 674.1,136.4 675.1,136.5 676.1,136.9 677.1,136.0 678.1,135.9 679.1,136.3 680.1,135.4 681.1,135.3 682.1,136.3 683.1,136.0 684.1,135.8 685.1,136.1 686.1,136.0 687.1,134.7 688.1,134.7 689.1,134.1 690.1,132.7 691.1,132.6 692.1,133.4 693.1,132.9 694.1,132.6 695.1,133.1 696.1,133.2 697.1,132.0 698.1,131.5 699.1,131.1 700.1,129.4 701.1,129.0 702.1,130.4 703.1,130.2 704.1,131.2 705.1,133.1 706.1,133.6 707.1,133.8 708.1,134.1 709.1,132.5 710.1,131.8 711.1,132.3 712.1,131.4 713.1,131.3 714.1,132.1 715.1,132.6 716.1,132.0 717.1,132.1 718.1,132.1 719.1,131.4 720.1,130.7 721.1,131.1 722.1,131.8 723.1,131.2 724.1,131.0 725.1,131.6 726.1,132.0 727.1,131.4 728.1,131.3 729.1,132.1 730.1,131.8 731.1,131.6 732.1,132.7 733.1,132.7 734.1,133.2 735.1,134.8 736.1,134.0 737.1,133.8 738.1,134.9 739.1,135.5 740.1,135.8 741.1,137.1 742.1,137.5 743.1,136.6 744.1,137.5 745.1,137.5 746.1,137.1 747.1,138.1 748.1,138.4 749.1,138.4 750.1,139.3 751.1,139.8 752.1,138.7 753.1,138.5 754.1,139.1 755.1,138.7 756.1,138.1 757.1,138.8 758.1,138.9 759.1,138.4 760.1,139.3 761.1,139.0 762.1,138.3 763.1,138.7 764.1,138.6 765.1,137.4 766.1,137.3 767.1,138.1 768.1,137.6 769.1,137.5 770.1,138.3 771.1,138.2 772.1,137.1 773.1,137.4 774.1,137.2 775.1,136.0 776.1,135.8 777.1,136.8 778.1,136.9 779.1,136.7 780.1,137.5 781.1,137.2 782.1,136.4 783.1,136.8 784.1,137.0 785.1,135.8 786.1,135.9 787.1,137.1 788.1,136.5 789.1,136.7 790.1,137.2 791.1,136.1 792.1,135.9 793.1,136.4 794.1,136.1 795.1,135.5 796.1,135.9 797.1,136.4 798.1,136.1 799.1,135.9 800.1,136.3 801.1,135.5 802.1,134.8 803.1,134.7 804.1,133.9 805.1,132.4 806.1,132.5 807.1,132.9 808.1,132.4 809.1,132.2 810.1,133.0 811.1,133.2 812.1,132.0 813.1,131.6 814.1,131.4 815.1,130.6 816.1,130.3 817.1,131.3 818.1,131.7 819.1,131.9 820.1,133.0 821.1,134.0 822.1,133.1 823.1,132.9 824.1,132.8 825.1,131.9 826.1,131.6 827.1,132.1 828.1,131.6 829.1,131.5 830.1,132.4 831.1,131.7 832.1,131.6 833.1,131.9 834.1,131.6 835.1,130.8 836.1,131.4 837.1,131.3 838.1,130.7 839.1,131.6 840.1,132.0 841.1,131.5 842.1,131.6 843.1,132.1 844.1,131.9 845.1,131.5 846.1,131.9 847.1,133.0 848.1,132.8 849.1,132.8 850.1,133.9 851.1,134.3 852.1,133.6 853.1,134.1 854.1,135.1 855.1,135.5 856.1,135.6 857.1,136.7 858.1,137.6 859.1,137.4 860.1,138.0 861.1,138.9 862.1,138.3 863.1,138.4 864.1,139.3 865.1,139.2 866.1,139.0 867.1,139.4 868.1,139.3 869.1,138.5 870.1,138.9 871.1,139.2 872.1,138.8 873.1,138.9 874.1,139.7 875.1,140.0 876.1,139.3 877.1,139.1 878.1,139.3 879.1,139.0 880.1,138.2 881.1,138.4 882.1,138.6 883.1,137.8 884.1,138.1 885.1,138.8 886.1,138.1 887.1,137.8 888.1,138.2 889.1,138.0 890.1,137.3 891.1,137.1 892.1,137.6 893.1,137.1 894.1,136.5 895.1,136.9 896.1,137.2 897.1,136.7 898.1,136.9 899.1,137.5 900.1,136.4 901.1,136.6 902.1,137.2 903.1,136.3 904.1,136.5 905.1,137.2 906.1,136.8 907.1,135.9 908.1,136.1 909.1,136.7 910.1,136.4 911.1,136.1 912.1,136.9 913.1,136.6 914.1,135.8 915.1,136.1 916.1,136.5 917.1,135.4 918.1,135.3 919.1,135.2 920.1,133.6 921.1,133.4 922.1,133.5 923.1,132.3 924.1,132.2 925.1,133.1 926.1,132.6 927.1,132.8 928.1,133.1 929.1,132.3 930.1,130.8 931.1,130.8 932.1,131.2 933.1,130.8 934.1,131.0 935.1,132.4 936.1,132.9 937.1,133.4 938.1,133.8 939.1,132.7 940.1,132.0 941.1,132.1 942.1,131.9 943.1,131.1 944.1,131.9 945.1,132.2 946.1,131.9 947.1,132.2 948.1,132.4 949.1,131.6 950.1,131.0 951.1,131.7 952.1,132.1 953.1,131.1 954.1,131.7 955.1,131.6 956.1,130.7 957.1,131.1 958.1,131.7 959.1,131.6 960.1,131.4 961.1,132.6 962.1,132.7 963.1,132.8 964.1,134.0 965.1,133.5 966.1,133.8 967.1,134.4 968.1,133.5 969.1,133.4 970.1,134.7 971.1,135.0 972.1,135.7 973.1,137.1 974.1,136.7 975.1,137.0 976.1,138.2 977.1,138.1 978.1,138.3 979.1,139.2 980.1,138.8 981.1,138.2 982.1,139.0 983.1,139.6 984.1,139.0 985.1,140.1" fill="none" stroke="#f66a38" stroke-width="1.3" stroke-opacity="0.92" stroke-linejoin="round" stroke-linecap="round"/>
<text x="615.50" y="262.00" font-size="14.4" text-anchor="middle">100</text>
<text x="689.50" y="262.00" font-size="14.4" text-anchor="middle">120</text>
<text x="763.90" y="262.00" font-size="14.4" text-anchor="middle">140</text>
<text x="837.50" y="262.00" font-size="14.4" text-anchor="middle">160</text>
<text x="911.50" y="262.00" font-size="14.4" text-anchor="middle">180</text>
<text x="985.50" y="262.00" font-size="14.4" text-anchor="middle">200</text>
<text x="609.80" y="246.85" font-size="14.4" text-anchor="end">-1</text>
<text x="610.20" y="194.85" font-size="14.4" text-anchor="end">-0.5</text>
<text x="610.20" y="141.30" font-size="14.4" text-anchor="end">0</text>
<text x="610.20" y="88.05" font-size="14.4" text-anchor="end">0.5</text>
<text x="609.80" y="35.00" font-size="14.4" text-anchor="end">1</text>
<rect x="840.45" y="45.30" width="136.35" height="37.15" fill="#fff" stroke="#363636" stroke-width="1.05"/>
<line x1="844.55" y1="55.50" x2="893.55" y2="55.50" stroke="#1f84d2" stroke-width="1.1"/>
<line x1="844.55" y1="72.05" x2="893.55" y2="72.05" stroke="#f6703f" stroke-width="1.1"/>
<text x="896.55" y="60.80" font-size="13.0" fill="#0c0c0c" stroke="#0c0c0c" stroke-width="0.12">PDEM 500</text>
<text x="896.55" y="78.10" font-size="13.0" fill="#0c0c0c" stroke="#0c0c0c" stroke-width="0.12">MCM 30,000</text>
<text x="801.70" y="294.00" font-size="15.8" text-anchor="middle">Distance /(m)</text>
<text transform="translate(553.90,244.20) rotate(-90)" font-size="15.8" xml:space="preserve">Average value of</text>
<text transform="translate(578.90,254.60) rotate(-90)" font-size="15.8" xml:space="preserve">vehicle vertical acceleration(m/s<tspan dx="1.5" dy="-8" font-size="12.6">2</tspan><tspan dx="1" dy="8">)</tspan></text>
<line x1="169.35" y1="334.50" x2="169.35" y2="546.35" stroke="#d5d5d5" stroke-width="1"/>
<line x1="243.45" y1="334.50" x2="243.45" y2="546.35" stroke="#d5d5d5" stroke-width="1"/>
<line x1="317.55" y1="334.50" x2="317.55" y2="546.35" stroke="#d5d5d5" stroke-width="1"/>
<line x1="391.65" y1="334.50" x2="391.65" y2="546.35" stroke="#d5d5d5" stroke-width="1"/>
<line x1="465.75" y1="334.50" x2="465.75" y2="546.35" stroke="#d5d5d5" stroke-width="1"/>
<line x1="97.10" y1="544.60" x2="468.30" y2="544.60" stroke="#e0e0e0" stroke-width="1"/>
<line x1="97.10" y1="509.15" x2="468.30" y2="509.15" stroke="#e0e0e0" stroke-width="1"/>
<line x1="97.10" y1="473.70" x2="468.30" y2="473.70" stroke="#e0e0e0" stroke-width="1"/>
<line x1="97.10" y1="438.25" x2="468.30" y2="438.25" stroke="#e0e0e0" stroke-width="1"/>
<line x1="97.10" y1="402.80" x2="468.30" y2="402.80" stroke="#e0e0e0" stroke-width="1"/>
<line x1="97.10" y1="367.35" x2="468.30" y2="367.35" stroke="#e0e0e0" stroke-width="1"/>
<line x1="169.35" y1="546.35" x2="169.35" y2="542.85" stroke="#4a4a4a" stroke-width="0.9"/>
<line x1="169.35" y1="334.50" x2="169.35" y2="338.00" stroke="#4a4a4a" stroke-width="0.9"/>
<line x1="243.45" y1="546.35" x2="243.45" y2="542.85" stroke="#4a4a4a" stroke-width="0.9"/>
<line x1="243.45" y1="334.50" x2="243.45" y2="338.00" stroke="#4a4a4a" stroke-width="0.9"/>
<line x1="317.55" y1="546.35" x2="317.55" y2="542.85" stroke="#4a4a4a" stroke-width="0.9"/>
<line x1="317.55" y1="334.50" x2="317.55" y2="338.00" stroke="#4a4a4a" stroke-width="0.9"/>
<line x1="391.65" y1="546.35" x2="391.65" y2="542.85" stroke="#4a4a4a" stroke-width="0.9"/>
<line x1="391.65" y1="334.50" x2="391.65" y2="338.00" stroke="#4a4a4a" stroke-width="0.9"/>
<line x1="465.75" y1="546.35" x2="465.75" y2="542.85" stroke="#4a4a4a" stroke-width="0.9"/>
<line x1="465.75" y1="334.50" x2="465.75" y2="338.00" stroke="#4a4a4a" stroke-width="0.9"/>
<line x1="97.10" y1="544.60" x2="100.60" y2="544.60" stroke="#4a4a4a" stroke-width="0.9"/>
<line x1="468.30" y1="544.60" x2="464.80" y2="544.60" stroke="#4a4a4a" stroke-width="0.9"/>
<line x1="97.10" y1="509.15" x2="100.60" y2="509.15" stroke="#4a4a4a" stroke-width="0.9"/>
<line x1="468.30" y1="509.15" x2="464.80" y2="509.15" stroke="#4a4a4a" stroke-width="0.9"/>
<line x1="97.10" y1="473.70" x2="100.60" y2="473.70" stroke="#4a4a4a" stroke-width="0.9"/>
<line x1="468.30" y1="473.70" x2="464.80" y2="473.70" stroke="#4a4a4a" stroke-width="0.9"/>
<line x1="97.10" y1="438.25" x2="100.60" y2="438.25" stroke="#4a4a4a" stroke-width="0.9"/>
<line x1="468.30" y1="438.25" x2="464.80" y2="438.25" stroke="#4a4a4a" stroke-width="0.9"/>
<line x1="97.10" y1="402.80" x2="100.60" y2="402.80" stroke="#4a4a4a" stroke-width="0.9"/>
<line x1="468.30" y1="402.80" x2="464.80" y2="402.80" stroke="#4a4a4a" stroke-width="0.9"/>
<line x1="97.10" y1="367.35" x2="100.60" y2="367.35" stroke="#4a4a4a" stroke-width="0.9"/>
<line x1="468.30" y1="367.35" x2="464.80" y2="367.35" stroke="#4a4a4a" stroke-width="0.9"/>
<rect x="97.10" y="334.50" width="371.20" height="211.85" fill="none" stroke="#323232" stroke-width="1.0"/>
<polyline points="97.1,478.7 97.6,480.4 98.4,482.7 99.1,484.5 99.7,485.5 100.4,486.0 101.0,485.8 101.4,484.0 101.8,481.5 102.3,480.0 102.9,480.6 103.6,482.1 104.2,483.2 104.7,482.9 105.0,482.2 105.5,481.9 106.1,482.9 106.7,484.3 107.4,485.1 108.1,484.7 108.7,483.7 109.3,482.6 110.0,481.3 110.6,480.0 111.3,479.3 111.9,480.2 112.5,481.8 113.2,482.6 114.0,481.5 114.9,479.6 115.8,478.4 116.5,478.9 117.1,480.1 117.7,481.3 118.3,482.2 118.9,483.0 119.6,483.6 120.4,483.6 121.4,483.4 122.2,483.2 122.9,483.3 123.5,483.4 124.1,483.2 124.8,482.3 125.4,481.1 126.0,480.6 126.7,481.5 127.4,483.1 128.0,484.5 128.4,485.7 128.8,486.8 129.3,487.0 129.8,485.9 130.5,483.9 131.2,482.6 131.8,482.5 132.5,483.1 133.1,483.8 133.6,484.6 133.9,485.4 134.4,485.8 135.0,485.1 135.6,484.0 136.3,483.2 136.9,483.3 137.6,483.7 138.2,483.8 139.0,483.1 139.8,482.1 140.6,481.5 141.3,482.1 142.0,483.1 142.7,483.8 143.4,484.0 144.0,483.8 144.7,483.2 145.4,481.9 146.2,480.2 147.0,479.3 147.7,480.2 148.5,481.9 149.2,483.2 149.8,483.6 150.5,483.6 151.1,483.8 151.5,484.9 151.9,486.2 152.4,487.0 152.9,487.0 153.6,486.5 154.3,486.4 155.1,487.6 156.0,489.2 156.9,489.6 157.6,487.5 158.2,484.1 158.8,481.9 159.5,482.2 160.1,483.6 160.7,485.1 161.2,486.4 161.6,487.7 162.0,488.3 162.6,487.9 163.3,486.8 163.9,485.8 164.4,484.9 164.8,484.1 165.2,483.8 165.8,484.4 166.5,485.5 167.1,486.4 167.7,487.0 168.3,487.3 168.8,487.0 169.4,485.7 170.0,483.9 170.6,482.6 171.2,482.4 171.7,482.8 172.3,483.2 172.9,483.5 173.6,483.8 174.2,483.8 174.9,483.1 175.5,482.0 176.1,481.5 176.8,482.3 177.4,483.6 178.1,484.5 178.7,484.4 179.3,484.0 180.0,483.8 180.6,484.3 181.2,485.0 181.9,485.8 182.7,486.6 183.7,487.5 184.5,487.7 185.2,486.7 185.8,485.0 186.4,483.8 187.0,483.9 187.6,484.5 188.3,484.5 189.2,482.9 190.1,480.6 190.9,479.3 191.6,479.9 192.3,481.3 192.8,482.6 193.3,483.3 193.7,483.8 194.1,483.8 194.7,483.0 195.3,481.7 196.0,481.3 196.9,482.6 197.8,484.9 198.6,486.4 199.3,486.6 199.9,486.1 200.5,485.1 201.4,483.3 202.3,481.1 203.1,480.0 203.8,480.8 204.5,482.7 205.0,484.5 205.4,486.2 205.7,487.8 206.1,488.3 206.5,487.0 207.0,484.5 207.6,482.6 208.2,481.7 208.9,481.3 209.5,481.3 210.2,481.5 210.8,482.0 211.5,482.6 212.1,483.3 212.7,484.2 213.4,484.5 214.0,483.7 214.7,482.3 215.3,481.5 215.9,481.7 216.4,482.4 217.0,483.2 217.8,484.2 218.6,485.3 219.6,485.8 220.6,485.1 221.7,483.7 222.8,482.6 223.9,481.8 224.9,481.2 226.0,481.0 227.1,481.3 228.2,481.8 229.2,482.6 229.9,483.5 230.5,484.5 231.1,485.1 231.7,485.0 232.4,484.4 233.1,484.5 233.9,486.2 234.8,488.4 235.6,489.0 236.3,486.1 237.0,481.6 237.6,478.1 238.0,476.8 238.4,476.6 238.8,476.8 239.3,476.9 239.7,477.5 240.1,478.7 240.6,481.6 241.1,485.3 241.7,487.0 242.3,484.9 243.0,480.8 243.6,478.1 244.2,478.3 244.7,480.0 245.3,481.3 245.9,481.3 246.5,481.1 247.2,481.3 247.8,482.6 248.5,484.5 249.1,485.8 249.7,485.6 250.3,484.8 251.0,484.5 251.9,485.2 252.8,486.4 253.6,487.0 254.3,486.6 254.9,485.7 255.5,485.1 256.3,485.2 257.2,485.6 258.1,485.8 259.0,485.4 259.9,484.8 260.7,484.5 261.4,484.7 262.0,485.2 262.6,485.1 263.2,483.7 263.9,481.8 264.5,481.3 265.2,483.4 265.9,486.9 266.5,489.6 266.8,490.8 267.0,491.3 267.4,490.9 267.9,489.3 268.5,487.0 269.0,485.1 269.4,484.1 269.6,483.7 269.9,483.8 270.4,485.1 271.0,486.9 271.6,488.3 272.2,488.9 272.9,489.1 273.5,489.0 274.2,488.7 274.8,488.1 275.4,487.0 276.1,485.1 276.7,482.6 277.4,481.3 278.0,482.0 278.7,483.8 279.3,485.1 279.8,485.3 280.1,485.0 280.6,484.5 281.2,483.6 281.8,482.5 282.5,481.9 283.2,482.3 283.8,483.3 284.4,483.8 285.1,483.5 285.7,482.9 286.4,482.6 287.2,483.1 288.1,483.9 288.9,484.5 289.8,484.5 290.6,484.3 291.5,483.8 292.4,483.0 293.3,482.0 294.1,481.3 294.6,481.1 295.1,481.4 295.6,481.9 296.3,482.9 297.1,484.1 297.9,485.1 298.8,485.8 299.7,486.3 300.5,486.4 301.2,485.8 301.8,484.9 302.4,484.5 303.3,485.2 304.2,486.4 305.0,487.0 305.7,486.6 306.3,485.5 306.9,484.5 307.6,483.5 308.2,482.5 308.8,481.9 309.3,482.0 309.7,482.5 310.1,482.6 310.6,481.4 311.1,479.8 311.7,479.3 312.2,481.5 312.8,484.8 313.3,486.4 314.0,484.6 314.6,481.1 315.3,478.7 315.9,479.0 316.6,480.4 317.2,481.3 317.7,480.7 318.2,479.6 318.7,479.3 319.3,480.8 319.8,483.0 320.4,484.5 321.0,484.6 321.5,483.8 322.1,482.6 322.6,480.0 323.1,476.8 323.6,475.5 324.2,477.8 324.9,481.9 325.5,484.5 326.2,483.8 326.8,481.6 327.5,480.0 328.1,479.7 328.8,480.1 329.4,481.3 330.0,484.0 330.6,487.5 331.3,489.0 332.2,486.2 333.1,481.4 333.9,478.7 334.6,480.6 335.2,484.7 335.8,487.0 336.5,485.7 337.1,482.7 337.7,480.6 338.4,480.6 339.1,481.5 339.7,482.6 340.2,484.0 340.6,485.6 341.0,486.4 341.3,485.6 341.6,483.9 342.0,482.6 342.6,481.8 343.3,481.5 343.9,481.9 344.6,483.7 345.3,486.4 345.9,488.3 346.3,489.2 346.7,489.4 347.1,489.0 347.5,487.5 347.9,485.5 348.4,484.5 349.0,485.5 349.7,487.5 350.3,488.3 351.0,486.6 351.7,483.6 352.3,481.3 352.7,480.0 353.1,479.4 353.6,479.3 354.2,480.3 354.8,482.0 355.5,483.2 356.1,483.4 356.8,483.2 357.4,483.2 358.1,483.6 358.7,484.1 359.3,484.5 360.0,484.5 360.6,484.3 361.3,483.8 361.9,482.7 362.6,481.4 363.2,481.3 363.9,483.5 364.6,487.0 365.1,489.6 365.5,490.8 365.7,491.3 366.0,490.9 366.5,489.3 367.1,486.8 367.7,485.1 368.1,484.8 368.6,485.1 369.0,485.8 369.4,486.9 369.8,488.4 370.3,489.0 370.9,488.1 371.6,486.4 372.2,484.5 372.6,482.3 373.0,480.1 373.5,478.7 374.1,479.0 374.7,480.1 375.4,481.3 376.0,482.2 376.7,483.1 377.3,483.2 378.0,481.9 378.7,479.8 379.3,478.1 379.7,477.0 380.1,476.3 380.5,476.4 381.1,477.9 381.8,480.1 382.5,481.9 383.1,482.7 383.7,483.0 384.4,483.2 385.2,483.4 386.1,483.6 387.0,483.8 387.9,484.2 388.8,484.6 389.5,485.1 390.0,486.1 390.4,487.3 390.8,487.7 391.4,486.5 392.1,484.6 392.7,483.2 393.2,482.7 393.6,482.8 394.0,483.2 394.6,484.1 395.2,485.3 395.9,486.4 396.8,487.3 397.7,488.1 398.5,488.3 399.2,487.6 399.8,486.4 400.4,485.8 401.1,486.4 401.7,487.7 402.4,489.0 403.0,490.4 403.7,491.7 404.3,492.2 405.0,491.0 405.6,488.8 406.2,487.0 406.7,486.0 407.1,485.3 407.5,485.1 408.0,485.9 408.5,487.1 409.1,487.7 409.8,486.9 410.6,485.5 411.4,484.5 412.0,484.4 412.6,484.7 413.3,485.1 414.1,485.8 415.0,486.6 415.9,487.0 416.5,486.7 417.2,486.0 417.8,485.1 418.4,483.9 419.1,482.5 419.7,481.9 420.4,483.2 421.0,485.4 421.6,486.4 422.3,484.9 423.0,482.2 423.6,480.0 424.0,478.9 424.4,478.4 424.9,478.4 425.4,479.5 426.1,481.3 426.8,482.6 427.4,482.8 428.1,482.5 428.7,482.6 429.4,483.3 430.0,484.3 430.6,485.1 431.1,485.6 431.5,486.0 431.9,485.8 432.5,484.6 433.2,483.0 433.8,481.9 434.5,482.0 435.1,482.6 435.8,482.6 436.4,481.1 437.1,479.1 437.7,478.1 438.3,479.0 438.9,481.0 439.6,482.6 440.4,483.1 441.3,483.2 442.2,483.2 443.1,483.3 444.0,483.3 444.8,483.2 445.5,483.0 446.1,482.6 446.7,481.9 447.3,480.6 448.0,478.9 448.6,478.1 449.3,478.6 449.9,479.9 450.5,481.3 451.2,482.5 451.8,483.8 452.5,484.5 453.1,484.2 453.8,483.4 454.4,482.6 455.0,481.7 455.7,480.8 456.3,480.0 457.0,478.9 457.6,478.0 458.2,478.1 458.8,480.5 459.3,484.0 459.9,485.8 460.6,483.7 461.4,479.8 462.1,477.4 462.8,478.2 463.4,480.4 464.0,482.6 464.5,484.6 464.9,486.6 465.3,487.0 466.0,484.7 466.7,480.9 467.2,478.1" fill="none" stroke="#087fca" stroke-width="1.3" stroke-opacity="0.92" stroke-linejoin="round" stroke-linecap="round"/>
<polyline points="97.1,484.9 100.2,485.2 103.3,485.1 106.4,484.8 109.5,484.8 112.6,485.1 115.7,485.3 118.8,485.1 121.8,484.8 124.9,484.8 128.0,485.1 131.1,485.3 134.2,485.0 137.3,484.6 140.4,484.7 143.5,485.0 146.6,485.1 149.7,484.8 152.8,484.5 155.9,484.6 159.0,485.0 162.1,485.0 165.2,484.7 168.2,484.5 171.3,484.7 174.4,485.1 177.5,485.1 180.6,484.7 183.7,484.6 186.8,485.0 189.9,485.3 193.0,485.2 196.1,484.8 199.2,484.8 202.3,485.1 205.4,485.3 208.5,485.1 211.6,484.8 214.6,484.8 217.7,485.1 220.8,485.2 223.9,484.9 227.0,484.6 230.1,484.7 233.2,485.0 236.3,485.1 239.4,484.7 242.5,484.5 245.6,484.6 248.7,485.0 251.8,485.0 254.9,484.7 258.0,484.5 261.0,484.8 264.1,485.1 267.2,485.1 270.3,484.8 273.4,484.7 276.5,485.0 279.6,485.3 282.7,485.2 285.8,484.8 288.9,484.8 292.0,485.1 295.1,485.3 298.2,485.1 301.3,484.7 304.4,484.7 307.4,485.0 310.5,485.2 313.6,484.9 316.7,484.5 319.8,484.6 322.9,484.9 326.0,485.0 329.1,484.7 332.2,484.5 335.3,484.6 338.4,485.0 341.5,485.1 344.6,484.7 347.7,484.6 350.8,484.8 353.8,485.2 356.9,485.2 360.0,484.8 363.1,484.7 366.2,485.0 369.3,485.3 372.4,485.2 375.5,484.8 378.6,484.8 381.7,485.1 384.8,485.3 387.9,485.0 391.0,484.7 394.1,484.7 397.2,485.0 400.2,485.1 403.3,484.8 406.4,484.5 409.5,484.6 412.6,484.9 415.7,485.0 418.8,484.7 421.9,484.5 425.0,484.7 428.1,485.1 431.2,485.1 434.3,484.8 437.4,484.6 440.5,484.9 443.6,485.3 446.6,485.2 449.7,484.9 452.8,484.8 455.9,485.1 459.0,485.3 462.1,485.2 465.2,484.8 468.3,484.7" fill="none" stroke="#f66a38" stroke-width="1.15" stroke-opacity="0.92" stroke-linejoin="round" stroke-linecap="round"/>
<text x="169.35" y="567.00" font-size="14.4" text-anchor="middle">120</text>
<text x="243.45" y="567.00" font-size="14.4" text-anchor="middle">140</text>
<text x="317.55" y="567.00" font-size="14.4" text-anchor="middle">160</text>
<text x="391.65" y="567.00" font-size="14.4" text-anchor="middle">180</text>
<text x="465.75" y="567.00" font-size="14.4" text-anchor="middle">200</text>
<text x="92.20" y="550.10" font-size="14.4" text-anchor="end">0</text>
<text x="92.20" y="514.65" font-size="14.4" text-anchor="end">0.05</text>
<text x="91.80" y="479.20" font-size="14.4" text-anchor="end">0.1</text>
<text x="92.20" y="443.75" font-size="14.4" text-anchor="end">0.15</text>
<text x="92.20" y="408.30" font-size="14.4" text-anchor="end">0.2</text>
<text x="92.20" y="372.85" font-size="14.4" text-anchor="end">0.25</text>
<rect x="322.45" y="351.80" width="135.75" height="37.50" fill="#fff" stroke="#363636" stroke-width="1.05"/>
<line x1="326.55" y1="362.40" x2="375.55" y2="362.40" stroke="#1f84d2" stroke-width="1.1"/>
<line x1="326.55" y1="378.90" x2="375.55" y2="378.90" stroke="#f6703f" stroke-width="1.1"/>
<text x="378.55" y="367.80" font-size="13.0" fill="#0c0c0c" stroke="#0c0c0c" stroke-width="0.12">PDEM 500</text>
<text x="378.55" y="385.10" font-size="13.0" fill="#0c0c0c" stroke="#0c0c0c" stroke-width="0.12">MCM 30,000</text>
<text x="283.00" y="588.20" font-size="15.8" text-anchor="middle">Distance /(m)</text>
<text transform="translate(35.30,533.00) rotate(-90)" font-size="15.8" xml:space="preserve">Standard deviation of</text>
<text transform="translate(57.00,540.20) rotate(-90)" font-size="15.8" xml:space="preserve">reduction rate of  wheel load</text>
<line x1="689.50" y1="334.50" x2="689.50" y2="546.35" stroke="#d5d5d5" stroke-width="1"/>
<line x1="763.90" y1="334.50" x2="763.90" y2="546.35" stroke="#d5d5d5" stroke-width="1"/>
<line x1="837.50" y1="334.50" x2="837.50" y2="546.35" stroke="#d5d5d5" stroke-width="1"/>
<line x1="911.50" y1="334.50" x2="911.50" y2="546.35" stroke="#d5d5d5" stroke-width="1"/>
<line x1="615.10" y1="503.98" x2="986.30" y2="503.98" stroke="#e0e0e0" stroke-width="1"/>
<line x1="615.10" y1="461.61" x2="986.30" y2="461.61" stroke="#e0e0e0" stroke-width="1"/>
<line x1="615.10" y1="419.24" x2="986.30" y2="419.24" stroke="#e0e0e0" stroke-width="1"/>
<line x1="615.10" y1="376.87" x2="986.30" y2="376.87" stroke="#e0e0e0" stroke-width="1"/>
<line x1="689.50" y1="546.35" x2="689.50" y2="542.85" stroke="#4a4a4a" stroke-width="0.9"/>
<line x1="689.50" y1="334.50" x2="689.50" y2="338.00" stroke="#4a4a4a" stroke-width="0.9"/>
<line x1="763.90" y1="546.35" x2="763.90" y2="542.85" stroke="#4a4a4a" stroke-width="0.9"/>
<line x1="763.90" y1="334.50" x2="763.90" y2="338.00" stroke="#4a4a4a" stroke-width="0.9"/>
<line x1="837.50" y1="546.35" x2="837.50" y2="542.85" stroke="#4a4a4a" stroke-width="0.9"/>
<line x1="837.50" y1="334.50" x2="837.50" y2="338.00" stroke="#4a4a4a" stroke-width="0.9"/>
<line x1="911.50" y1="546.35" x2="911.50" y2="542.85" stroke="#4a4a4a" stroke-width="0.9"/>
<line x1="911.50" y1="334.50" x2="911.50" y2="338.00" stroke="#4a4a4a" stroke-width="0.9"/>
<line x1="615.10" y1="503.98" x2="618.60" y2="503.98" stroke="#4a4a4a" stroke-width="0.9"/>
<line x1="986.30" y1="503.98" x2="982.80" y2="503.98" stroke="#4a4a4a" stroke-width="0.9"/>
<line x1="615.10" y1="461.61" x2="618.60" y2="461.61" stroke="#4a4a4a" stroke-width="0.9"/>
<line x1="986.30" y1="461.61" x2="982.80" y2="461.61" stroke="#4a4a4a" stroke-width="0.9"/>
<line x1="615.10" y1="419.24" x2="618.60" y2="419.24" stroke="#4a4a4a" stroke-width="0.9"/>
<line x1="986.30" y1="419.24" x2="982.80" y2="419.24" stroke="#4a4a4a" stroke-width="0.9"/>
<line x1="615.10" y1="376.87" x2="618.60" y2="376.87" stroke="#4a4a4a" stroke-width="0.9"/>
<line x1="986.30" y1="376.87" x2="982.80" y2="376.87" stroke="#4a4a4a" stroke-width="0.9"/>
<rect x="615.10" y="334.50" width="371.20" height="211.85" fill="none" stroke="#323232" stroke-width="1.0"/>
<polyline points="615.1,468.6 615.6,467.6 616.4,466.3 617.1,465.3 617.7,464.7 618.3,464.4 619.0,464.7 619.6,466.0 620.3,467.8 620.9,469.2 621.6,470.0 622.2,470.3 622.8,469.8 623.5,467.9 624.2,465.2 624.8,463.4 625.2,463.3 625.6,464.1 626.1,465.3 626.7,467.5 627.3,470.1 628.0,471.8 628.6,471.6 629.2,470.5 629.9,469.2 630.7,467.7 631.6,466.1 632.5,464.7 633.2,463.7 633.8,462.9 634.4,462.8 635.0,463.6 635.7,465.0 636.3,466.6 637.0,468.5 637.6,470.6 638.3,472.4 638.8,474.0 639.3,475.3 639.8,475.6 640.4,474.4 640.9,472.2 641.5,470.5 641.9,469.6 642.3,469.1 642.8,469.2 643.3,470.4 643.8,472.1 644.4,472.4 645.1,469.7 645.9,465.7 646.6,463.2 647.3,463.8 647.9,466.1 648.5,467.9 649.1,468.7 649.6,469.2 650.1,469.2 650.5,468.4 650.9,467.1 651.4,466.6 651.9,467.9 652.5,470.0 653.0,471.1 653.5,470.4 653.9,468.8 654.3,467.3 654.8,465.7 655.4,464.1 656.0,463.7 656.5,465.0 657.0,467.5 657.5,469.8 658.0,471.9 658.3,473.9 658.8,475.0 659.4,474.7 660.1,473.6 660.7,472.4 661.4,471.0 662.0,469.5 662.7,468.6 663.3,468.8 663.9,469.6 664.6,470.5 665.2,471.2 665.8,471.9 666.5,472.4 667.3,472.7 668.2,472.9 669.1,473.0 669.9,473.2 670.8,473.4 671.7,473.7 672.5,474.2 673.4,474.8 674.2,475.6 674.9,477.1 675.5,478.9 676.2,479.5 676.8,478.1 677.5,475.5 678.1,473.0 678.6,470.9 679.0,468.8 679.4,467.3 679.7,466.5 680.0,466.3 680.4,466.6 680.9,468.0 681.4,469.9 681.9,471.1 682.4,471.3 682.8,470.8 683.2,469.8 683.8,468.3 684.5,466.3 685.1,464.7 685.7,463.7 686.3,463.0 686.8,462.8 687.4,463.2 688.0,464.2 688.6,465.3 689.2,466.7 689.7,468.1 690.3,469.2 690.9,469.5 691.6,469.3 692.2,469.2 692.9,469.2 693.5,469.3 694.1,469.2 694.7,468.7 695.3,468.0 695.8,467.9 696.3,468.8 696.8,470.3 697.3,471.8 697.9,473.2 698.4,474.5 698.9,475.0 699.4,474.0 700.0,472.2 700.6,470.5 701.2,469.1 701.8,467.7 702.5,466.6 703.1,465.6 703.8,464.8 704.4,464.7 705.1,466.1 705.7,468.1 706.3,469.2 707.0,468.4 707.6,466.5 708.3,464.7 708.9,462.9 709.6,461.0 710.2,460.2 710.9,461.1 711.5,463.0 712.1,464.7 712.6,466.0 713.0,467.2 713.4,467.9 714.0,467.8 714.7,467.3 715.3,467.3 716.0,468.0 716.6,469.1 717.3,470.5 717.9,472.4 718.5,474.6 719.2,475.6 719.8,474.7 720.5,472.6 721.1,470.5 721.7,468.7 722.3,466.8 723.0,465.3 723.9,464.2 724.8,463.3 725.6,463.2 726.1,463.9 726.5,465.4 726.9,467.3 727.4,470.1 727.9,473.3 728.4,475.0 729.0,473.8 729.6,471.0 730.1,468.6 730.5,466.8 730.9,465.3 731.4,464.7 732.0,465.7 732.7,467.7 733.3,469.2 733.9,469.6 734.4,469.5 735.0,469.2 735.6,468.7 736.3,468.1 736.9,467.9 737.5,468.6 738.2,469.8 738.9,470.5 739.7,470.2 740.5,469.4 741.4,469.2 742.3,470.1 743.2,471.5 744.0,472.4 744.7,472.3 745.3,471.5 745.9,470.5 746.4,468.9 746.8,466.9 747.2,465.3 747.7,464.4 748.2,463.9 748.7,464.1 749.3,465.4 749.8,467.4 750.4,469.2 751.0,470.4 751.7,471.3 752.3,471.8 753.0,471.4 753.6,470.5 754.3,469.8 754.9,469.7 755.6,469.9 756.2,469.8 756.8,469.4 757.5,468.7 758.1,468.6 758.8,469.2 759.4,470.3 760.0,471.1 760.7,471.2 761.3,471.0 762.0,471.1 762.6,472.1 763.3,473.3 763.9,473.7 764.6,472.4 765.2,470.3 765.8,468.6 766.3,467.8 766.7,467.4 767.1,467.3 767.7,467.4 768.4,467.7 769.0,467.9 769.7,467.8 770.3,467.6 771.0,467.9 771.6,469.4 772.3,471.5 772.9,472.4 773.5,471.3 774.2,469.1 774.8,467.3 775.4,466.3 775.9,465.8 776.4,466.0 776.9,467.1 777.5,469.0 778.0,470.5 778.7,471.5 779.3,472.2 780.0,472.4 780.6,471.9 781.2,470.9 781.9,469.8 782.5,468.9 783.2,467.8 783.8,466.6 784.3,464.8 784.8,462.8 785.4,462.1 785.9,463.9 786.5,467.0 787.0,469.8 787.6,472.4 788.1,474.7 788.7,475.6 789.2,474.3 789.7,471.5 790.2,468.6 790.7,465.6 791.1,462.6 791.5,460.2 791.9,458.6 792.2,457.8 792.5,458.3 793.0,461.0 793.6,465.1 794.1,468.6 794.5,470.7 794.9,472.2 795.4,473.0 796.0,473.0 796.6,472.4 797.3,471.8 798.0,471.7 798.6,471.7 799.2,471.1 799.8,469.4 800.3,467.2 800.8,465.3 801.2,464.1 801.6,463.3 802.1,463.4 802.6,464.8 803.1,467.1 803.7,469.2 804.3,470.8 805.0,472.1 805.6,473.0 806.3,473.4 806.9,473.4 807.6,473.0 808.2,472.5 808.9,471.6 809.5,470.5 810.0,468.7 810.5,466.7 811.0,466.0 811.6,467.8 812.2,471.0 812.7,473.0 813.3,472.9 813.9,471.7 814.4,470.5 814.8,469.1 815.2,467.7 815.7,467.3 816.2,468.4 816.7,470.5 817.2,472.4 817.7,473.8 818.2,475.0 818.8,475.6 819.3,475.5 819.8,475.0 820.4,474.3 821.0,473.7 821.7,473.0 822.3,472.4 823.0,472.1 823.6,472.0 824.3,471.8 824.9,471.4 825.6,470.9 826.2,469.8 826.7,467.3 827.2,464.2 827.7,462.8 828.3,464.5 828.9,468.0 829.4,471.1 830.0,473.6 830.5,475.7 831.1,476.3 831.6,474.3 832.1,470.8 832.6,467.9 833.1,466.3 833.5,465.2 833.9,464.7 834.4,465.1 834.9,466.1 835.4,466.6 836.0,465.7 836.6,464.2 837.1,464.1 837.7,466.3 838.2,469.8 838.8,473.0 839.3,476.1 839.8,478.8 840.3,479.5 840.8,476.7 841.3,471.8 841.9,467.3 842.4,463.6 843.0,460.3 843.5,458.3 844.1,458.5 844.7,460.1 845.2,461.5 845.7,462.3 846.2,462.9 846.8,463.4 847.4,463.6 848.0,463.7 848.7,464.1 849.3,465.4 849.8,467.1 850.4,467.9 850.9,466.9 851.6,465.0 852.1,464.1 852.7,465.2 853.3,467.3 853.8,469.2 854.3,470.4 854.6,471.3 855.1,471.8 855.7,471.7 856.4,471.1 857.0,470.5 857.7,469.6 858.4,468.5 859.0,467.9 859.3,468.1 859.6,468.6 860.0,469.2 860.6,469.7 861.3,470.3 861.9,470.5 862.6,470.1 863.2,469.3 863.9,468.6 864.4,467.9 864.9,467.3 865.4,467.3 865.9,468.2 866.5,469.7 867.1,471.1 867.6,472.3 868.2,473.4 868.7,473.7 869.2,472.6 869.7,470.8 870.3,469.2 870.9,468.2 871.5,467.6 872.2,467.3 872.8,467.5 873.5,468.1 874.1,468.6 874.8,468.4 875.4,468.1 876.1,467.9 876.7,468.2 877.3,468.8 878.0,469.2 878.6,469.1 879.3,469.0 879.9,469.2 880.6,470.3 881.2,471.9 881.8,473.0 882.5,473.6 883.1,473.7 883.8,473.7 884.4,473.4 885.0,472.9 885.7,472.4 886.4,472.0 887.0,471.5 887.6,471.1 888.1,470.5 888.4,469.9 888.9,469.8 889.5,470.7 890.2,472.1 890.8,473.0 891.5,472.8 892.1,472.1 892.8,471.8 893.4,472.4 894.0,473.4 894.7,473.7 895.3,472.5 896.0,470.7 896.6,469.2 897.1,468.2 897.5,467.6 897.9,467.9 898.4,469.9 899.0,472.8 899.6,475.0 900.1,475.8 900.6,476.0 901.1,475.6 901.7,474.7 902.4,473.3 903.0,471.8 903.6,470.0 904.2,468.2 904.7,467.3 905.2,467.9 905.7,469.3 906.2,470.5 906.8,471.2 907.3,471.6 907.8,471.1 908.2,468.9 908.7,465.8 909.1,463.4 909.5,462.2 909.9,461.6 910.4,462.1 910.9,464.4 911.5,467.7 912.0,470.5 912.6,472.3 913.1,473.5 913.7,474.3 914.2,474.8 914.7,474.7 915.2,473.7 915.9,471.1 916.6,467.5 917.2,464.7 917.6,463.2 918.0,462.6 918.4,462.8 919.0,464.4 919.6,466.9 920.1,468.6 920.6,468.6 921.1,468.0 921.7,467.3 922.2,466.7 922.7,466.2 923.2,466.0 923.7,466.3 924.3,467.1 924.9,467.9 925.5,469.0 926.1,470.2 926.8,471.1 927.4,471.6 928.1,471.7 928.7,471.8 929.4,471.8 930.0,471.8 930.6,471.1 931.3,469.2 932.0,466.6 932.6,465.3 933.0,466.1 933.4,468.1 933.9,470.5 934.4,473.6 935.0,477.1 935.5,478.8 936.1,477.5 936.6,474.5 937.1,471.8 937.5,470.0 937.9,468.6 938.4,467.9 938.8,468.5 939.2,469.6 939.6,469.8 940.1,468.0 940.7,465.1 941.2,462.8 941.6,461.4 942.0,460.5 942.5,460.8 943.0,463.0 943.6,466.4 944.1,469.2 944.7,471.1 945.3,472.5 945.8,473.0 946.3,472.1 946.9,470.2 947.3,469.2 947.8,470.2 948.2,472.0 948.6,472.4 949.2,470.2 949.9,466.7 950.6,463.4 951.1,460.3 951.7,457.5 952.2,456.3 952.8,457.8 953.3,461.1 953.8,464.7 954.3,469.2 954.8,474.2 955.3,476.9 955.9,475.6 956.4,472.1 957.0,469.2 957.5,467.7 958.1,466.8 958.7,466.6 959.2,467.9 959.7,470.0 960.2,471.1 960.7,470.3 961.2,468.6 961.7,467.3 962.3,466.5 962.8,466.1 963.4,466.6 964.0,469.1 964.5,472.5 965.1,474.3 965.6,473.5 966.1,471.1 966.6,468.6 967.1,465.8 967.7,462.9 968.2,460.8 968.6,460.1 969.0,460.3 969.4,461.5 970.0,464.3 970.5,468.1 971.1,471.1 971.7,472.5 972.2,473.0 972.8,473.0 973.4,472.4 974.0,471.3 974.6,470.5 975.1,470.4 975.7,470.7 976.2,471.1 976.8,471.7 977.4,472.3 977.9,472.4 978.5,471.4 979.1,469.8 979.7,468.6 980.3,467.8 980.8,467.3 981.4,467.3 982.0,467.9 982.7,468.9 983.3,469.8 984.0,470.4 984.7,470.8 985.2,471.1" fill="none" stroke="#087fca" stroke-width="1.3" stroke-opacity="0.92" stroke-linejoin="round" stroke-linecap="round"/>
<polyline points="615.1,470.6 618.2,470.9 621.3,470.8 624.4,470.5 627.5,470.5 630.6,470.8 633.7,471.1 636.8,470.9 639.8,470.5 642.9,470.5 646.0,470.9 649.1,471.0 652.2,470.7 655.3,470.4 658.4,470.5 661.5,470.8 664.6,470.9 667.7,470.5 670.8,470.3 673.9,470.4 677.0,470.8 680.1,470.8 683.2,470.5 686.2,470.3 689.3,470.5 692.4,470.9 695.5,470.9 698.6,470.5 701.7,470.5 704.8,470.8 707.9,471.1 711.0,471.0 714.1,470.7 717.2,470.6 720.3,471.0 723.4,471.2 726.5,471.0 729.6,470.6 732.6,470.6 735.7,471.0 738.8,471.1 741.9,470.8 745.0,470.5 748.1,470.5 751.2,470.9 754.3,470.9 757.4,470.6 760.5,470.4 763.6,470.5 766.7,470.9 769.8,470.9 772.9,470.6 776.0,470.4 779.0,470.7 782.1,471.1 785.2,471.0 788.3,470.7 791.4,470.6 794.5,470.9 797.6,471.3 800.7,471.1 803.8,470.8 806.9,470.7 810.0,471.1 813.1,471.3 816.2,471.1 819.3,470.7 822.4,470.7 825.4,471.0 828.5,471.2 831.6,470.9 834.7,470.5 837.8,470.6 840.9,471.0 844.0,471.0 847.1,470.7 850.2,470.5 853.3,470.7 856.4,471.0 859.5,471.1 862.6,470.8 865.7,470.6 868.8,470.9 871.8,471.2 874.9,471.2 878.0,470.9 881.1,470.8 884.2,471.1 887.3,471.4 890.4,471.3 893.5,470.9 896.6,470.8 899.7,471.2 902.8,471.4 905.9,471.1 909.0,470.8 912.1,470.8 915.2,471.1 918.2,471.2 921.3,470.9 924.4,470.6 927.5,470.7 930.6,471.1 933.7,471.2 936.8,470.9 939.9,470.6 943.0,470.8 946.1,471.2 949.2,471.3 952.3,470.9 955.4,470.8 958.5,471.1 961.6,471.4 964.6,471.4 967.7,471.1 970.8,470.9 973.9,471.2 977.0,471.5 980.1,471.4 983.2,471.0 986.3,470.9" fill="none" stroke="#f66a38" stroke-width="1.15" stroke-opacity="0.92" stroke-linejoin="round" stroke-linecap="round"/>
<text x="615.50" y="567.00" font-size="14.4" text-anchor="middle">100</text>
<text x="689.50" y="567.00" font-size="14.4" text-anchor="middle">120</text>
<text x="763.90" y="567.00" font-size="14.4" text-anchor="middle">140</text>
<text x="837.50" y="567.00" font-size="14.4" text-anchor="middle">160</text>
<text x="911.50" y="567.00" font-size="14.4" text-anchor="middle">180</text>
<text x="985.50" y="567.00" font-size="14.4" text-anchor="middle">200</text>
<text x="610.20" y="551.85" font-size="14.4" text-anchor="end">0</text>
<text x="609.80" y="509.48" font-size="14.4" text-anchor="end">0.1</text>
<text x="610.20" y="467.11" font-size="14.4" text-anchor="end">0.2</text>
<text x="610.20" y="424.74" font-size="14.4" text-anchor="end">0.3</text>
<text x="610.20" y="382.37" font-size="14.4" text-anchor="end">0.4</text>
<text x="610.20" y="340.00" font-size="14.4" text-anchor="end">0.5</text>
<rect x="841.40" y="350.83" width="135.90" height="37.40" fill="#fff" stroke="#363636" stroke-width="1.05"/>
<line x1="845.50" y1="361.45" x2="894.50" y2="361.45" stroke="#1f84d2" stroke-width="1.1"/>
<line x1="845.50" y1="377.80" x2="894.50" y2="377.80" stroke="#f6703f" stroke-width="1.1"/>
<text x="897.50" y="366.80" font-size="13.0" fill="#0c0c0c" stroke="#0c0c0c" stroke-width="0.12">PDEM 500</text>
<text x="897.50" y="384.10" font-size="13.0" fill="#0c0c0c" stroke="#0c0c0c" stroke-width="0.12">MCM 30,000</text>
<text x="801.00" y="588.20" font-size="15.8" text-anchor="middle">Distance /(m)</text>
<text transform="translate(558.70,552.40) rotate(-90)" font-size="15.8" xml:space="preserve">Standard deviation of</text>
<text transform="translate(583.80,560.00) rotate(-90)" font-size="15.8" xml:space="preserve">vehicle vertical acceleration(m/s<tspan dx="1.5" dy="-8" font-size="12.6">2</tspan><tspan dx="1" dy="8">)</tspan></text>
</g>
</svg>
</body></html>
